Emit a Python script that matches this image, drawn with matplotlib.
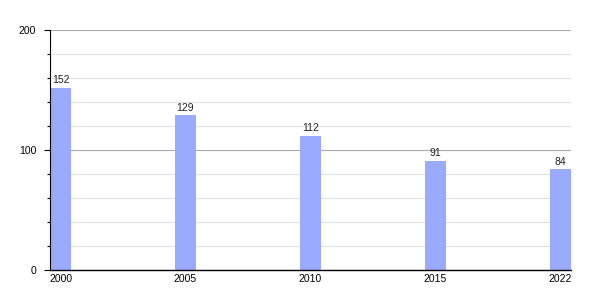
import matplotlib.pyplot as plt
from matplotlib.ticker import MultipleLocator

years = ["2000", "2005", "2010", "2015", "2022"]
values = [152, 129, 112, 91, 84]

plt.rcParams['font.family'] = ['Liberation Sans', 'DejaVu Sans']

fig = plt.figure(figsize=(6, 3), dpi=100)
ax = fig.add_axes([50/600, 30/300, 521/600, 240/300])

w = 0.168
pos = list(range(len(years)))
bars = ax.bar(pos, values, width=w, align='edge', color='#99aaff', zorder=2)
for p, v in zip(pos, values):
    ax.text(p + w/2, v + 2, str(v), ha='center', va='bottom', fontsize=7.5, color='#222222')

ax.set_xlim(0, 4 + w)
ax.set_ylim(0, 200)
ax.set_xticks([p + w/2 for p in pos])
ax.set_xticklabels(years, fontsize=7.5)
ax.tick_params(axis='x', length=0, pad=3)

ax.yaxis.set_major_locator(MultipleLocator(100))
ax.yaxis.set_minor_locator(MultipleLocator(20))
ax.tick_params(axis='y', which='major', length=4, width=0.8, labelsize=7.5, pad=6)
ax.tick_params(axis='y', which='minor', length=2, width=0.8)
ax.grid(axis='y', which='major', color='#aaaaaa', linewidth=0.8, zorder=0)
ax.grid(axis='y', which='minor', color='#e0e0e0', linewidth=0.8, zorder=0)

for s in ['top', 'right']:
    ax.spines[s].set_visible(False)
ax.spines['left'].set_linewidth(0.8)
ax.spines['bottom'].set_linewidth(1.0)
ax.set_axisbelow(True)

fig.savefig("out.png")
